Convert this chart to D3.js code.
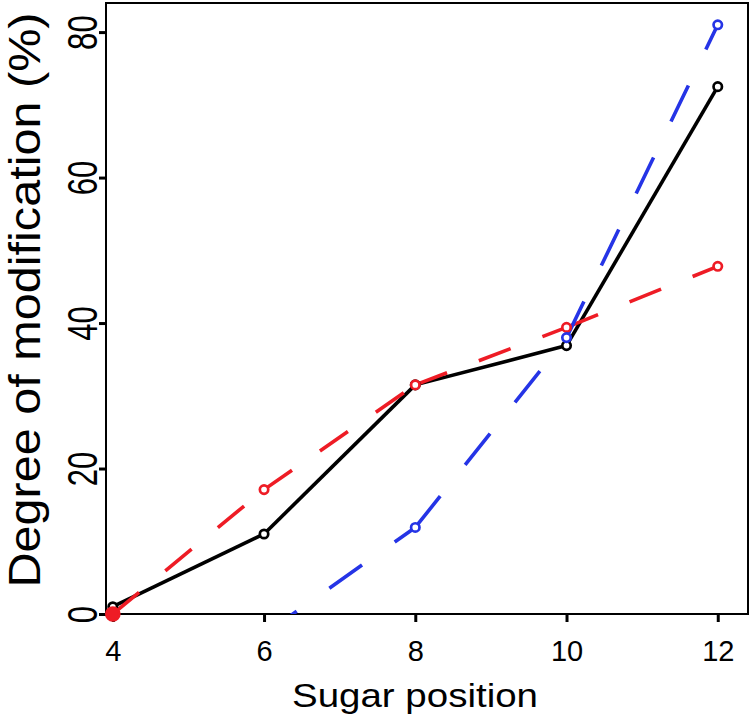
<!DOCTYPE html>
<html>
<head>
<meta charset="utf-8">
<script src="https://cdn.jsdelivr.net/npm/d3@7"></script>
<style>
  body { margin: 0; background: #fff; }
  text { font-family: "Liberation Sans", Arial, Helvetica, sans-serif; }
</style>
</head>
<body>
<div id="graph1"></div>
<script>
let width = 752,
    height = 720;

// sugar positions and degree of modification (%) per series
const positions = [4, 6, 8, 10, 12];
const blackSeries = [1.0, 11.0, 31.5, 36.9, 72.5];
const redSeries = [0.0, 17.1, 31.5, 39.4, 47.8];
const blueSeries = [-4.0, -2.8, 11.9, 38.0, 81.0];
const xTicks = [4, 6, 8, 10, 12];
const yTicks = [0, 20, 40, 60, 80];

const series = [
    { name: "black", values: blackSeries, color: "#000000", dash: null },
    { name: "red", values: redSeries, color: "#ee1c25", dash: "34,34" },
    { name: "blue", values: blueSeries, color: "#2534e6", dash: "40,40" }
];

let plot = { left: 106, right: 748, top: 3, bottom: 614 };

let svg = d3.select("#graph1")
    .append("svg")
    .attr("width", width)
    .attr("height", height);

let x = d3.scaleLinear()
    .domain([3.91, 12.4])
    .range([plot.left, plot.right]);

let y = d3.scaleLinear()
    .domain([0, 84])
    .range([plot.bottom, plot.top]);

svg.append("clipPath")
    .attr("id", "plotclip")
    .append("rect")
    .attr("x", plot.left)
    .attr("y", plot.top)
    .attr("width", plot.right - plot.left)
    .attr("height", plot.bottom - plot.top);

// x axis
let xAxis = svg.append("g")
    .attr("transform", `translate(0, ${plot.bottom})`)
    .call(d3.axisBottom(x).tickValues(xTicks).tickSize(8).tickPadding(18).tickFormat(d3.format("d")));
xAxis.select(".domain").remove();
xAxis.selectAll("line").attr("stroke-width", 3);
xAxis.selectAll("text").attr("font-size", 29).attr("fill", "#000");

// y axis, labels turned like R does (they look narrow in the picture)
let yAxis = svg.append("g")
    .attr("transform", `translate(${plot.left}, 0)`)
    .call(d3.axisLeft(y).tickValues(yTicks).tickSize(7).tickFormat(d3.format("d")));
yAxis.select(".domain").remove();
yAxis.selectAll("line").attr("stroke-width", 3);
yAxis.selectAll("text")
    .attr("x", null).attr("dy", null)
    .attr("font-size", 42).attr("fill", "#000")
    .style("text-anchor", "middle")
    .attr("transform", "translate(-9, 0) rotate(-90) scale(0.74, 1)");

// frame
svg.append("rect")
    .attr("x", plot.left)
    .attr("y", plot.top)
    .attr("width", plot.right - plot.left)
    .attr("height", plot.bottom - plot.top)
    .attr("fill", "none")
    .attr("stroke", "#000")
    .attr("stroke-width", 2);

let lineRef = svg.append("g").attr("clip-path", "url(#plotclip)");

let line = d3.line()
    .x(d => x(d[0]))
    .y(d => y(d[1]));

// each segment is drawn on its own so the dash starts again at every point
series.forEach(function (s) {
    let pairs = d3.pairs(positions.map((p, i) => [p, s.values[i]]));
    lineRef.selectAll(null)
        .data(pairs)
        .enter()
        .append("path")
        .attr("d", d => line(d))
        .attr("fill", "none")
        .attr("stroke", s.color)
        .attr("stroke-width", 3.6)
        .attr("stroke-dasharray", s.dash);
});

let pointRef = svg.append("g");

series.forEach(function (s) {
    let pts = positions.map((p, i) => [p, s.values[i]]).filter(d => d[1] >= 0);
    pointRef.selectAll(null)
        .data(pts)
        .enter()
        .append("circle")
        .attr("cx", d => x(d[0]))
        .attr("cy", d => y(d[1]))
        .attr("r", d => d[1] === 0 ? 6.5 : 4.2)
        .attr("fill", d => d[1] === 0 ? s.color : "#fff")
        .attr("stroke", s.color)
        .attr("stroke-width", 2.7);
});

svg.append("text")
    .attr("x", 415)
    .attr("y", 707)
    .style("text-anchor", "middle")
    .attr("font-size", 33)
    .attr("textLength", 246)
    .attr("lengthAdjust", "spacingAndGlyphs")
    .text("Sugar position");

svg.append("text")
    .attr("transform", `translate(40, 300) rotate(-90)`)
    .style("text-anchor", "middle")
    .attr("font-size", 44)
    .attr("textLength", 575)
    .attr("lengthAdjust", "spacingAndGlyphs")
    .text("Degree of modification (%)");
</script>
</body>
</html>
